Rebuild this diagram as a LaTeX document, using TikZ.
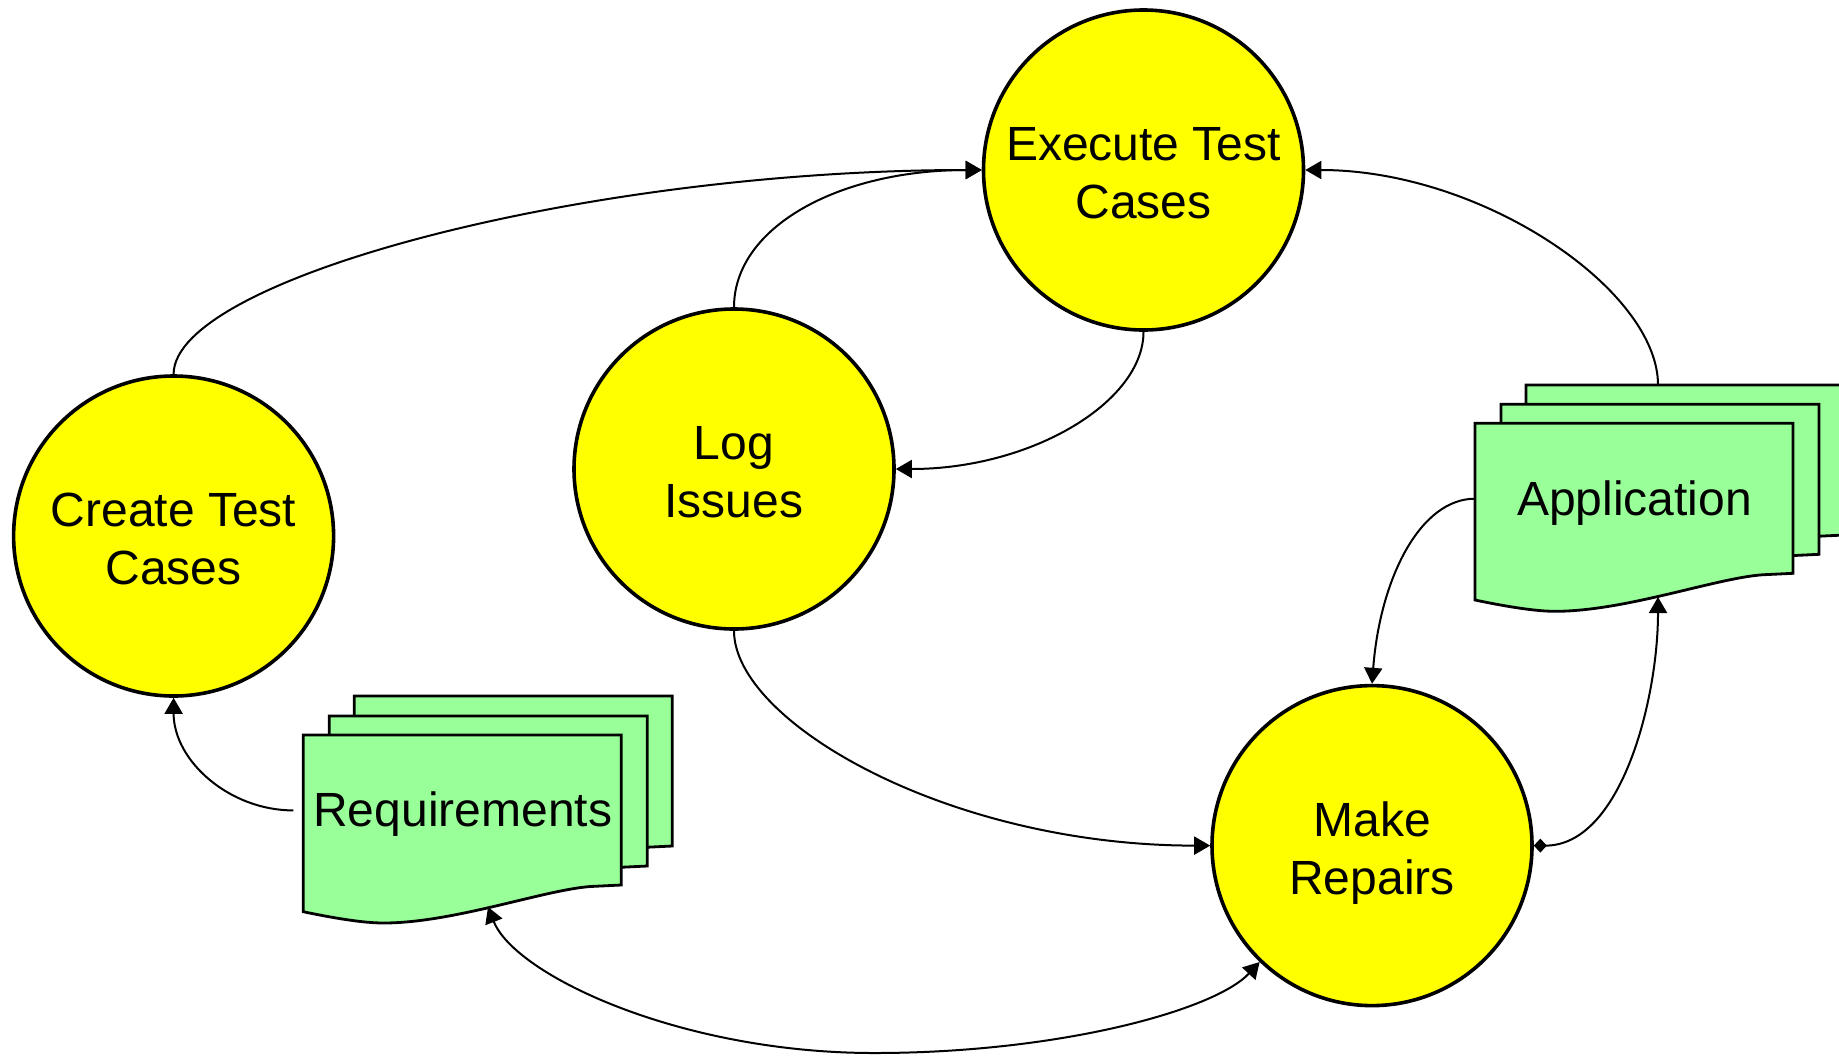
\documentclass[tikz,border=0pt]{standalone}
\usepackage{fontspec}
\setmainfont{Liberation Sans}
\usetikzlibrary{arrows.meta}

\definecolor{procyellow}{RGB}{255,255,0}
\definecolor{docgreen}{RGB}{153,255,153}

% one sheet of a stacked document, top-left corner at (#1,#2)
\newcommand\docsheet[2]{%
  \begin{scope}[shift={(#1,#2)}]
    \path[sheet] (0,0) -- (318,0) -- (318,150) -- (287,151.5)
      .. controls (240,155) and (150,188) .. (80,188)
      .. controls (60,188) and (30,183) .. (0,176.7) -- cycle;
  \end{scope}}

% two centred lines whose block is set on cap height and baseline
\newcommand\twoline[2]{\rule{0pt}{19.8pt}#1\\\raisebox{0pt}[\height][0pt]{#2}}

\begin{document}
\begin{tikzpicture}[x=0.5pt,y=-0.5pt,
  labelfont/.style={font=\fontsize{24}{29}\selectfont},
  proc/.style={circle, draw, line width=1.8pt, fill=procyellow,
    minimum size=160pt, inner sep=0pt, align=center, labelfont},
  sheet/.style={draw, line width=1.4pt, fill=docgreen, line join=miter},
  doctext/.style={rectangle, minimum width=159pt, minimum height=75pt,
    inner sep=0pt, anchor=north west, labelfont,
    execute at begin node={\rule{0pt}{21.5pt}}},
  conn/.style={line width=1pt, -{Triangle[length=8pt,width=9pt]}},
]
\clip (0,0) rectangle (1839,1055);

% process circles
\node[proc] (etc) at (1143.5,170) {\twoline{Execute Test}{Cases}};
\node[proc] (log) at (734,469) {\twoline{Log}{Issues}};
\node[proc] (ctc) at (173.6,536) {\twoline{Create Test}{Cases}};
\node[proc] (mr)  at (1372,845.6) {\twoline{Make}{Repairs}};

% stacked documents
\docsheet{354.3}{696}
\docsheet{329.3}{716}
\docsheet{303.3}{735}
\node[doctext] (req) at (303.3,735) {Requirements};

\docsheet{1526}{385}
\docsheet{1501}{404.3}
\docsheet{1475}{423.3}
\node[doctext] (app) at (1475,423.3) {Application};

\coordinate (reqwave) at (488,907);
\coordinate (appwave) at (1658,597);
\coordinate (appback) at (1658,385);

% flows
\draw[conn] (ctc.north) .. controls +(0,-95) and +(-398,0) .. (etc.west);
\draw[conn] (log.north) .. controls +(0,-80) and +(-143,0) .. (etc.west);
\draw[conn] (etc.south) .. controls +(0,70) and +(136,0) .. (log.east);
\draw[conn] (log.south) .. controls +(0,91) and +(-262,0) .. (mr.west);
\draw[conn] (appback) .. controls +(0,-95) and +(177,0) .. (etc.east);
\draw[conn] (app.west) .. controls +(-55,0) and +(8,-105) .. (mr.north);
\draw[conn, {Diamond[length=6.5pt,width=7pt]}-{Triangle[length=8pt,width=9pt]}]
  (mr.east) .. controls +(87,0) and +(0,103) .. (appwave);
\draw[conn, shorten <=5pt] (req.west) .. controls +(-74,0) and +(0,63) .. (ctc.south);
\draw[conn, {Triangle[length=8pt,width=9pt]}-{Triangle[length=8pt,width=9pt]}]
  (reqwave) .. controls (515,975) and (680,1053) .. (874,1053)
  .. controls (1060,1053) and (1215,1010) .. (mr.226);
\end{tikzpicture}
\end{document}
